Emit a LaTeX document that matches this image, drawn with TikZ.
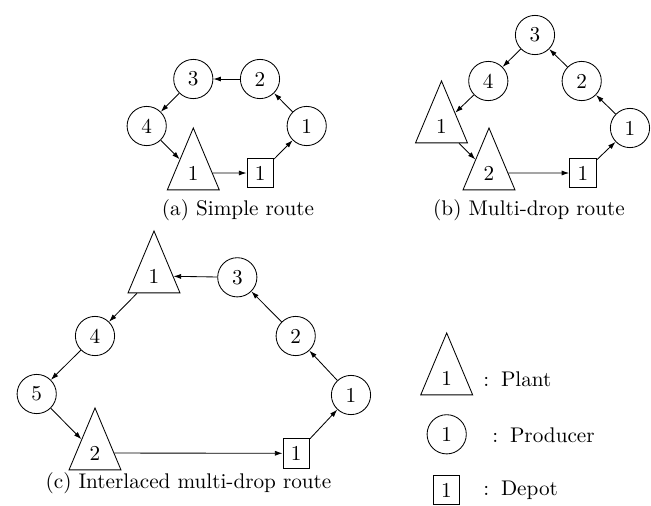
\documentclass[tikz,border=0pt]{standalone}
\usetikzlibrary{shapes.geometric,arrows.meta}
\begin{document}
\begin{tikzpicture}[x=0.4717pt,y=-0.4717pt,
  prod/.style={circle,draw,minimum size=18.5pt,inner sep=0pt},
  depot/.style={rectangle,draw,minimum width=12.6pt,minimum height=14pt,inner sep=0pt},
  plant/.style={isosceles triangle,isosceles triangle stretches,shape border rotate=90,
    draw,minimum width=24.5pt,minimum height=29.2pt,inner sep=0pt},
  flow/.style={-{Latex[length=3.6pt,width=2.4pt]}},
  captext/.style={anchor=base},
  key/.style={anchor=base west}]
\useasboundingbox (0,0) rectangle (651,505);

% (a) simple route
\node[prod]  (a3) at (193.3,79)  {3};
\node[prod]  (a2) at (260,79)    {2};
\node[prod]  (a4) at (146.7,126) {4};
\node[prod]  (a1) at (306.7,126) {1};
\node[plant] (aT) at (193.3,173) {1};
\node[depot] (aD) at (260.3,173) {1};
\draw[flow] (a2) -- (a3);
\draw[flow] (a3) -- (a4);
\draw[flow] (a4) -- (aT);
\draw[flow] (aT) -- (aD);
\draw[flow] (aD) -- (a1);
\draw[flow] (a1) -- (a2);
\node[captext] (acap) at (238,215) {(a) Simple route};

% (b) multi-drop route
\node[prod]  (b3) at (535,35)    {3};
\node[prod]  (b4) at (488.3,81)  {4};
\node[prod]  (b2) at (581.7,81)  {2};
\node[prod]  (b1) at (630,128)   {1};
\node[plant] (bT1) at (441.5,126) {1};
\node[plant] (bT2) at (489,173)   {2};
\node[depot] (bD) at (583,173)    {1};
\draw[flow] (b3) -- (b4);
\draw[flow] (b4) -- (bT1);
\draw[flow] (bT1) -- (bT2);
\draw[flow] (bT2) -- (bD);
\draw[flow] (bD) -- (b1);
\draw[flow] (b1) -- (b2);
\draw[flow] (b2) -- (b3);
\node[captext] (bcap) at (529,215) {(b) Multi-drop route};

% (c) interlaced multi-drop route
\node[plant] (cT1) at (154,276)  {1};
\node[prod]  (c3) at (237.3,277.3) {3};
\node[prod]  (c4) at (95,336)    {4};
\node[prod]  (c2) at (295.7,336) {2};
\node[prod]  (c5) at (36.7,394)  {5};
\node[prod]  (c1) at (351,395)   {1};
\node[plant] (cT2) at (95,453)   {2};
\node[depot] (cD) at (296.3,453.3) {1};
\draw[flow] (c3) -- (cT1);
\draw[flow] (cT1) -- (c4);
\draw[flow] (c4) -- (c5);
\draw[flow] (c5) -- (cT2);
\draw[flow] (cT2) -- (cD);
\draw[flow] (cD) -- (c1);
\draw[flow] (c1) -- (c2);
\draw[flow] (c2) -- (c3);
\node[captext] (ccap) at (188.5,488) {(c) Interlaced multi-drop route};

% legend
\node[plant] (kT) at (446.7,378) {1};
\node[key] (kTt) at (476,386.7) {:\hspace{5.5pt}Plant};
\node[prod]  (kP) at (446.7,434.3) {1};
\node[key] (kPt) at (485,442.7) {:\hspace{5.5pt}Producer};
\node[depot] (kD) at (446.3,490) {1};
\node[key] (kDt) at (476,495) {:\hspace{5.5pt}Depot};
\end{tikzpicture}
\end{document}
